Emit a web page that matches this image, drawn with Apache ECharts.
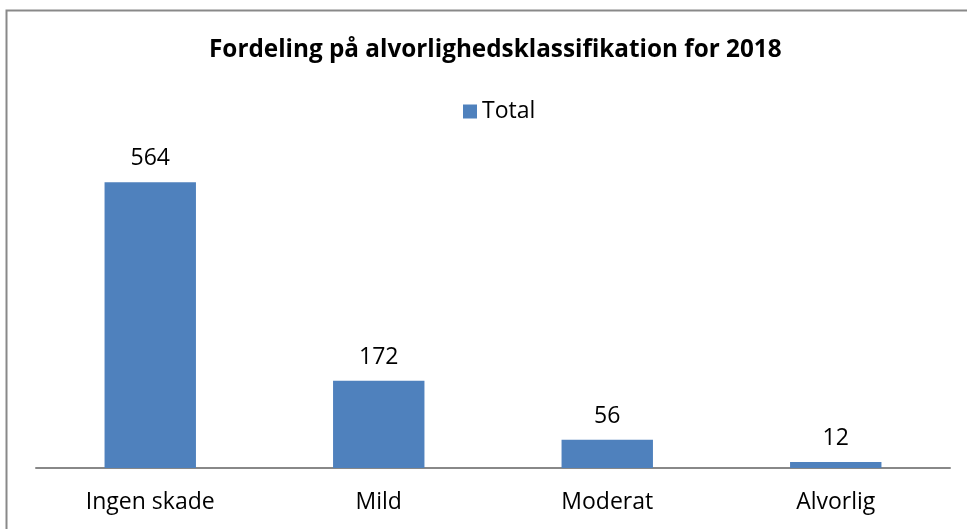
<!DOCTYPE html>
<html>
<head>
<meta charset="utf-8">
<script src="https://cdn.jsdelivr.net/npm/echarts@6/dist/echarts.min.js"></script>
<style>
  html, body { margin: 0; padding: 0; background: #fff; }
  #chart { width: 967px; height: 529px; }
</style>
</head>
<body>
<div id="chart"></div>
<script>
var categories = ['Ingen skade', 'Mild', 'Moderat', 'Alvorlig'];
var totals = [564, 172, 56, 12];

var font = '"Open Sans", sans-serif';
var chart = echarts.init(document.getElementById('chart'));
var option = {
  animation: false,
  title: {
    text: 'Fordeling på alvorlighedsklassifikation for 2018',
    left: 204,
    top: 33,
    textStyle: { fontFamily: font, fontSize: 24.3, fontWeight: 'bold', color: '#000' }
  },
  legend: {
    data: ['Total'],
    top: 95,
    left: 458,
    icon: 'rect',
    itemWidth: 14,
    itemHeight: 14,
    itemGap: 6,
    textStyle: { fontFamily: font, fontSize: 23, color: '#000' }
  },
  graphic: [{
    type: 'rect',
    shape: { x: 6.5, y: 10.5, width: 1000, height: 600 },
    style: { fill: 'none', stroke: '#898989', lineWidth: 2 },
    silent: true
  }],
  grid: { left: 36, right: 17, top: 164, bottom: 61 },
  xAxis: {
    type: 'category',
    data: categories,
    axisLine: { lineStyle: { color: '#888', width: 2 } },
    axisTick: { show: false },
    axisLabel: { fontFamily: font, fontSize: 23, color: '#000', margin: 23 }
  },
  yAxis: {
    type: 'value',
    min: 0,
    max: 600,
    show: false
  },
  series: [{
    name: 'Total',
    type: 'bar',
    data: totals,
    barWidth: '40%',
    itemStyle: { color: '#4f81bd' },
    label: {
      show: true,
      position: 'top',
      distance: 12,
      fontFamily: font,
      fontSize: 23,
      color: '#000'
    }
  }]
};
chart.setOption(option);
</script>
</body>
</html>
